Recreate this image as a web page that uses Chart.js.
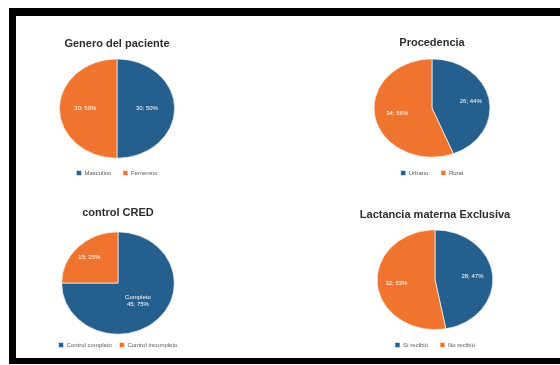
<!DOCTYPE html>
<html><head><meta charset="utf-8">
<script src="https://cdn.jsdelivr.net/npm/chart.js@4"></script>
<style>
html,body{margin:0;padding:0;background:#fff;width:560px;height:365px;overflow:hidden;font-family:"Liberation Sans",Arial,sans-serif;}
#frame{position:absolute;left:9px;top:8px;width:560px;height:342px;border-left:7px solid #000;border-top:8px solid #000;border-bottom:6px solid #000;box-sizing:content-box;}
canvas{position:absolute;}
</style></head><body>
<div id="frame"></div>
<canvas id="c1"></canvas><canvas id="c2"></canvas><canvas id="c3"></canvas><canvas id="c4"></canvas>
<script>
const colors = ['#245f8e', '#ef7430'];

const titles = ['Genero del paciente', 'Procedencia', 'control CRED', 'Lactancia materna Exclusiva'];

const generoLabels = ['Masculino', 'Femenino'];
const generoValues = [50, 50];
const generoText = [['30; 50%'], ['30; 50%']];

const procedenciaLabels = ['Urbano', 'Rural'];
const procedenciaValues = [44, 56];
const procedenciaText = [['26; 44%'], ['34; 56%']];

const credLabels = ['Control completo', 'Control incompleto'];
const credValues = [75, 25];
const credText = [['Completo', '45; 75%'], ['15; 25%']];

const lactanciaLabels = ['Sí recibió', 'No recibió'];
const lactanciaValues = [47, 53];
const lactanciaText = [['28; 47%'], ['32; 53%']];

const ellipsePlugin = {
  id: 'ellipse',
  beforeDatasetsDraw(chart, args, opts) {
    const ctx = chart.ctx;
    const el = chart.getDatasetMeta(0).data[0];
    ctx.save();
    ctx.translate(el.x, 0);
    ctx.scale(opts.sx, 1);
    ctx.translate(-el.x, 0);
  },
  afterDatasetsDraw(chart, args, opts) {
    const ctx = chart.ctx;
    ctx.restore();
    const meta = chart.getDatasetMeta(0);
    ctx.save();
    ctx.fillStyle = '#ffffff';
    ctx.font = '6px "Liberation Sans", Arial, sans-serif';
    ctx.textAlign = 'center';
    ctx.textBaseline = 'middle';
    meta.data.forEach((el, i) => {
      const p = el.getProps(['x', 'y', 'startAngle', 'endAngle', 'outerRadius'], true);
      const mid = (p.startAngle + p.endAngle) / 2;
      const r = p.outerRadius * opts.rf[i];
      const x = p.x + Math.cos(mid) * r * opts.sx;
      const y = p.y + Math.sin(mid) * r;
      const lines = opts.text[i];
      lines.forEach((t, k) => {
        ctx.fillText(t, x, y + (k - (lines.length - 1) / 2) * 7);
      });
    });
    ctx.restore();
  }
};

function makePie(id, pos, title, labels, values, text, sx, rf, titlePadBottom, legendPad) {
  const cv = document.getElementById(id);
  cv.width = pos.w; cv.height = pos.h;
  cv.style.left = pos.left + 'px'; cv.style.top = pos.top + 'px';
  cv.style.width = pos.w + 'px'; cv.style.height = pos.h + 'px';
  new Chart(cv, {
    type: 'pie',
    data: {
      labels: labels,
      datasets: [{ data: values, backgroundColor: colors, borderColor: '#ffffff', borderWidth: 0.6 }]
    },
    options: {
      responsive: false,
      animation: false,
      devicePixelRatio: 1,
      layout: { padding: 0 },
      plugins: {
        tooltip: { enabled: false },
        title: {
          display: true, text: title, color: '#2e2e2e',
          font: { family: '"Liberation Sans", Arial, sans-serif', size: 11, weight: 'bold' },
          padding: { top: 4, bottom: titlePadBottom }
        },
        legend: {
          position: 'bottom',
          labels: {
            boxWidth: 5, boxHeight: 5, padding: legendPad, color: '#595959',
            font: { family: '"Liberation Sans", Arial, sans-serif', size: 6 }
          }
        },
        ellipse: { sx: sx, rf: rf, text: text }
      }
    },
    plugins: [ellipsePlugin]
  });
}

makePie('c1', { left: 27, top: 33, w: 180, h: 153 }, titles[0], generoLabels, generoValues, generoText, 1.16, [0.52, 0.55], 8.4, 11.5);
makePie('c2', { left: 342, top: 32, w: 180, h: 154 }, titles[1], procedenciaLabels, procedenciaValues, procedenciaText, 1.18, [0.68, 0.61], 9.4, 12.5);
makePie('c3', { left: 28, top: 202, w: 180, h: 156 }, titles[2], credLabels, credValues, credText, 1.1, [0.5, 0.72], 12.4, 7.5);
makePie('c4', { left: 345, top: 204, w: 180, h: 154 }, titles[3], lactanciaLabels, lactanciaValues, lactanciaText, 1.16, [0.65, 0.67], 8.4, 12);
</script>
</body></html>
